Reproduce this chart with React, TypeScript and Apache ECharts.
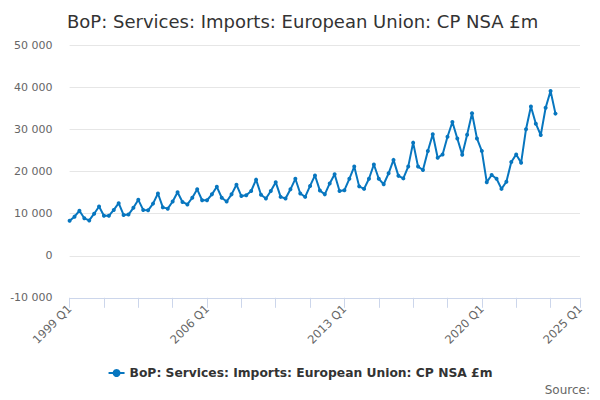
import React, { useEffect, useRef } from 'react'
import * as echarts from 'echarts'

const TITLE = 'BoP: Services: Imports: European Union: CP NSA £m'
const SERIES_NAME = 'BoP: Services: Imports: European Union: CP NSA £m'

// quarters 1999 Q1 .. 2025 Q1 (axis runs a little past the data)
const FIRST_YEAR = 1999
const LAST_YEAR = 2025
const categories: string[] = []
for (let y = FIRST_YEAR; y <= LAST_YEAR; y++) {
  for (let q = 1; q <= 4; q++) {
    if (y === LAST_YEAR && q > 1) break
    categories.push(`${y} Q${q}`)
  }
}

// £m, 1999 Q1 .. 2023 Q4
const imports = [
  8300, 9300, 10700, 8900,
  8400, 10000, 11700, 9500,
  9500, 10900, 12500, 9700,
  9800, 11400, 13300, 10900,
  10800, 12400, 14800, 11500,
  11200, 12900, 15100, 12800,
  12200, 13800, 15800, 13200,
  13200, 14600, 16400, 13800,
  12900, 14600, 16900, 14200,
  14400, 15400, 18100, 14500,
  13600, 15400, 17500, 14000,
  13600, 15800, 18300, 14800,
  14000, 16600, 19100, 15500,
  14600, 17200, 19400, 15400,
  15600, 18300, 21200, 16500,
  15900, 18300, 21700, 18300,
  17000, 19600, 22800, 19000,
  18400, 21200, 26900, 21200,
  20400, 24900, 28900, 23300,
  24100, 28300, 31800, 27900,
  24000, 28800, 33900, 27900,
  24900, 17500, 19200, 18300,
  15900, 17600, 22300, 24100,
  22100, 30100, 35500, 31400,
  28700, 35200, 39200, 33800,
]

const Y_MIN = -10000
const Y_MAX = 50000
const Y_STEP = 10000

const TICK_EVERY = 7
const LABEL_EVERY = 28

const FONT = '"DejaVu Sans", Verdana, sans-serif'
const LINE_COLOR = '#0776bf'

const fmt = (v: number) => {
  const s = Math.abs(v).toString().replace(/\B(?=(\d{3})+(?!\d))/g, ' ')
  return v < 0 ? '-' + s : s
}

const App = () => {
  const chartRef = useRef<HTMLDivElement | null>(null)

  useEffect(() => {
    if (!chartRef.current) return
    const chart = echarts.init(chartRef.current, undefined, { renderer: 'svg' })
    const last = categories.length - 1

    chart.setOption({
      animation: false,
      backgroundColor: '#ffffff',
      textStyle: { fontFamily: FONT },
      title: {
        text: TITLE,
        left: 62,
        top: 7,
        textStyle: { fontFamily: FONT, fontSize: 18, fontWeight: 'normal', color: '#333333' },
      },
      grid: { left: 69.6, top: 45.5, width: 510.4, height: 252.3 },
      legend: {
        bottom: 16,
        left: 'center',
        itemWidth: 16,
        itemHeight: 10,
        itemGap: 20,
        textStyle: { fontFamily: FONT, fontSize: 12.3, fontWeight: 'bold', color: '#333333' },
        data: [SERIES_NAME],
      },
      graphic: [
        {
          type: 'text',
          right: 10,
          bottom: 4,
          style: { text: 'Source:', fontFamily: FONT, fontSize: 12, fill: '#666666' },
        },
      ],
      xAxis: {
        type: 'category',
        data: categories,
        boundaryGap: false,
        axisLine: { onZero: false, lineStyle: { color: '#ccd6eb', width: 1 } },
        axisTick: {
          length: 10,
          interval: (i: number) => i % TICK_EVERY === 0 || i === last,
          lineStyle: { color: '#ccd6eb' },
        },
        axisLabel: {
          interval: (i: number) => i % LABEL_EVERY === 0 || i === last,
          rotate: 45,
          margin: 9,
          color: '#666666',
          fontSize: 11.5,
          fontFamily: FONT,
        },
        splitLine: { show: false },
      },
      yAxis: {
        type: 'value',
        min: Y_MIN,
        max: Y_MAX,
        interval: Y_STEP,
        axisLine: { show: false },
        axisTick: { show: false },
        axisLabel: {
          margin: 17,
          color: '#666666',
          fontSize: 11,
          fontFamily: FONT,
          formatter: (v: number) => fmt(v),
        },
        splitLine: { lineStyle: { color: '#e6e6e6', width: 1 } },
      },
      series: [
        {
          name: SERIES_NAME,
          type: 'line',
          data: imports,
          symbol: 'circle',
          symbolSize: 4,
          showSymbol: true,
          showAllSymbol: true,
          lineStyle: { color: LINE_COLOR, width: 2 },
          itemStyle: { color: LINE_COLOR },
        },
      ],
    })

    return () => {
      chart.dispose()
    }
  }, [])

  return (
    <div
      ref={chartRef}
      style={{ position: 'fixed', left: 0, top: 0, width: 600, height: 400 }}
    />
  )
}

export default App
